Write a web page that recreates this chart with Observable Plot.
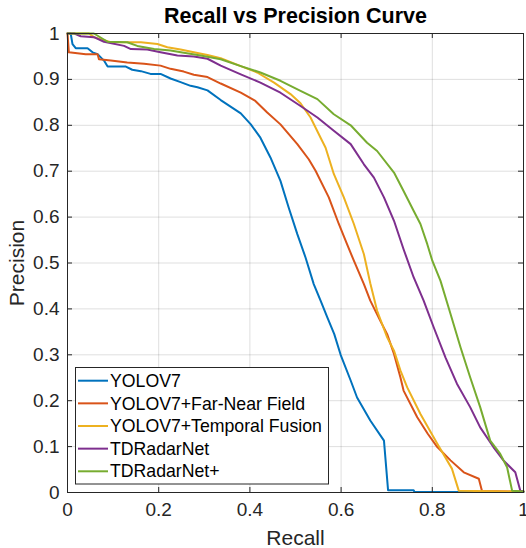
<!DOCTYPE html>
<html><head><meta charset="utf-8">
<script src="https://cdn.jsdelivr.net/npm/d3@7"></script>
<script src="https://cdn.jsdelivr.net/npm/@observablehq/plot@0.6"></script>
<style>
body{margin:0;background:#fff;}
#chart{position:relative;width:526px;height:548px;overflow:hidden;}
</style></head><body><div id="chart"></div>
<script>
const seriesNames = ["YOLOV7","YOLOV7+Far-Near Field","YOLOV7+Temporal Fusion","TDRadarNet","TDRadarNet+"];
const seriesColors = ["#0072BD","#D95319","#EDB120","#7E2F8E","#77AC30"];
const xTicks = [0,0.2,0.4,0.6,0.8,1];
const yTicks = [0,0.1,0.2,0.3,0.4,0.5,0.6,0.7,0.8,0.9,1];
const xTickLabels = ["0","0.2","0.4","0.6","0.8","1"];
const yTickLabels = ["0","0.1","0.2","0.3","0.4","0.5","0.6","0.7","0.8","0.9","1"];

const yolov7Recall = [0,0.007,0.011,0.018,0.044,0.055,0.066,0.080,0.088,0.128,0.142,0.161,0.182,0.204,0.226,0.248,0.270,0.285,0.307,0.336,0.380,0.402,0.423,0.445,0.467,0.485,0.504,0.522,0.540,0.555,0.570,0.585,0.599,0.621,0.635,0.664,0.694,0.703,0.759,0.761,1.0];
const yolov7Precision = [1,1.0,0.977,0.968,0.968,0.959,0.955,0.941,0.928,0.928,0.921,0.918,0.912,0.912,0.902,0.894,0.886,0.883,0.876,0.855,0.826,0.802,0.773,0.730,0.679,0.621,0.563,0.512,0.454,0.418,0.381,0.345,0.300,0.244,0.207,0.157,0.113,0.005,0.005,0.001,0.001];

const farNearRecall = [0,0.003,0.040,0.066,0.069,0.095,0.131,0.168,0.204,0.226,0.255,0.277,0.307,0.336,0.380,0.412,0.438,0.467,0.504,0.529,0.544,0.573,0.595,0.613,0.628,0.650,0.664,0.686,0.701,0.716,0.730,0.737,0.767,0.790,0.811,0.840,0.869,0.902,0.909,1.0];
const farNearPrecision = [1,0.959,0.955,0.955,0.944,0.941,0.937,0.934,0.930,0.923,0.917,0.910,0.905,0.891,0.871,0.853,0.828,0.802,0.759,0.726,0.701,0.643,0.585,0.541,0.505,0.454,0.418,0.374,0.345,0.302,0.251,0.222,0.164,0.128,0.099,0.070,0.044,0.030,0.003,0.002];

const temporalRecall = [0,0.047,0.058,0.095,0.161,0.197,0.219,0.248,0.277,0.307,0.336,0.380,0.416,0.453,0.489,0.511,0.533,0.555,0.566,0.584,0.606,0.628,0.650,0.664,0.679,0.701,0.716,0.730,0.745,0.774,0.811,0.843,0.858,1.0];
const temporalPrecision = [1,1.0,0.992,0.981,0.981,0.977,0.970,0.965,0.959,0.953,0.946,0.929,0.915,0.893,0.868,0.848,0.817,0.773,0.751,0.694,0.643,0.585,0.519,0.456,0.396,0.338,0.309,0.266,0.229,0.171,0.106,0.052,0.004,0.002];

const tdRecall = [0,0.015,0.029,0.058,0.080,0.124,0.139,0.175,0.204,0.241,0.277,0.307,0.336,0.380,0.423,0.467,0.511,0.548,0.584,0.621,0.650,0.672,0.694,0.716,0.737,0.759,0.781,0.803,0.829,0.854,0.883,0.905,0.934,0.956,0.982,0.993,1.0];
const tdPrecision = [1,1.0,0.994,0.992,0.982,0.973,0.966,0.965,0.959,0.952,0.950,0.945,0.930,0.911,0.893,0.871,0.842,0.817,0.788,0.759,0.715,0.686,0.643,0.592,0.530,0.469,0.418,0.360,0.294,0.237,0.186,0.142,0.099,0.070,0.044,0.004,0.002];

const tdPlusRecall = [0,0.058,0.088,0.131,0.153,0.190,0.226,0.255,0.292,0.336,0.380,0.423,0.467,0.511,0.548,0.584,0.621,0.657,0.679,0.716,0.737,0.759,0.774,0.789,0.800,0.818,0.840,0.862,0.883,0.905,0.927,0.949,0.964,0.975,1.0];
const tdPlusPrecision = [1,1.0,0.982,0.981,0.973,0.966,0.963,0.958,0.952,0.944,0.929,0.915,0.897,0.875,0.857,0.824,0.800,0.762,0.744,0.697,0.657,0.614,0.585,0.541,0.505,0.461,0.389,0.316,0.251,0.186,0.113,0.084,0.055,0.004,0.002];

const recalls = [yolov7Recall, farNearRecall, temporalRecall, tdRecall, tdPlusRecall];
const precisions = [yolov7Precision, farNearPrecision, temporalPrecision, tdPrecision, tdPlusPrecision];
const rows = [];
seriesNames.forEach((name, i) => {
  recalls[i].forEach((r, j) => rows.push({series: name, recall: r, precision: precisions[i][j]}));
});

const W = 526, H = 548, mL = 67, mR = 3, mT = 33, mB = 56;
const fw = W - mL - mR, fh = H - mT - mB;
const ink = "#262626";
const font = "'Liberation Sans', Arial, Helvetica, sans-serif";

const plot = Plot.plot({
  width: W, height: H,
  marginLeft: mL, marginRight: mR, marginTop: mT, marginBottom: mB,
  style: {fontFamily: font, color: ink, background: "white", overflow: "visible"},
  x: {domain: [0, 1]},
  y: {domain: [0, 1]},
  color: {domain: seriesNames, range: seriesColors},
  marks: [
    Plot.gridX(xTicks, {stroke: ink, strokeOpacity: 0.15}),
    Plot.gridY(yTicks, {stroke: ink, strokeOpacity: 0.15}),
    Plot.line(rows, {x: "recall", y: "precision", z: "series", stroke: "series", strokeWidth: 2}),
    Plot.frame({stroke: ink, strokeWidth: 1}),
    Plot.tickX(xTicks, {x: d => d, insetTop: fh - 5, stroke: ink}),
    Plot.tickX(xTicks, {x: d => d, insetBottom: fh - 5, stroke: ink}),
    Plot.tickY(yTicks, {y: d => d, insetRight: fw - 5, stroke: ink}),
    Plot.tickY(yTicks, {y: d => d, insetLeft: fw - 5, stroke: ink}),
    Plot.axisX(xTicks, {tickSize: 0, tickPadding: 10, fontSize: 19, tickFormat: (d, i) => xTickLabels[i], label: null, fill: ink}),
    Plot.axisY(yTicks, {tickSize: 0, tickPadding: 8, fontSize: 19, tickFormat: (d, i) => yTickLabels[i], label: null, fill: ink}),
    Plot.text(["Recall"], {frameAnchor: "bottom", dy: 46, fontSize: 21, textAnchor: "middle", lineAnchor: "middle", fill: ink}),
    Plot.text(["Precision"], {frameAnchor: "left", dx: -50, rotate: -90, fontSize: 21, textAnchor: "middle", lineAnchor: "middle", fill: ink}),
    Plot.text(["Recall vs Precision Curve"], {frameAnchor: "top", dy: -17, fontSize: 21.5, fontWeight: "bold", textAnchor: "middle", lineAnchor: "middle", fill: "#000"})
  ]
});

document.getElementById("chart").appendChild(plot);

// legend box
const svg = d3.select(plot);
const lg = svg.append("g").attr("font-family", font).attr("font-size", 17.7).attr("text-anchor", "start");
lg.append("rect").attr("x", 75.5).attr("y", 367.5).attr("width", 253).attr("height", 116.5)
  .attr("fill", "white").attr("stroke", ink).attr("stroke-width", 1);
seriesNames.forEach((name, i) => {
  const cy = 380.7 + i * 22.65;
  lg.append("line").attr("x1", 78).attr("x2", 108).attr("y1", cy).attr("y2", cy)
    .attr("stroke", seriesColors[i]).attr("stroke-width", 2);
  lg.append("text").attr("x", 110).attr("y", cy).attr("dy", "0.35em").attr("text-anchor", "start")
    .attr("fill", "#000").text(name);
});
</script></body></html>
